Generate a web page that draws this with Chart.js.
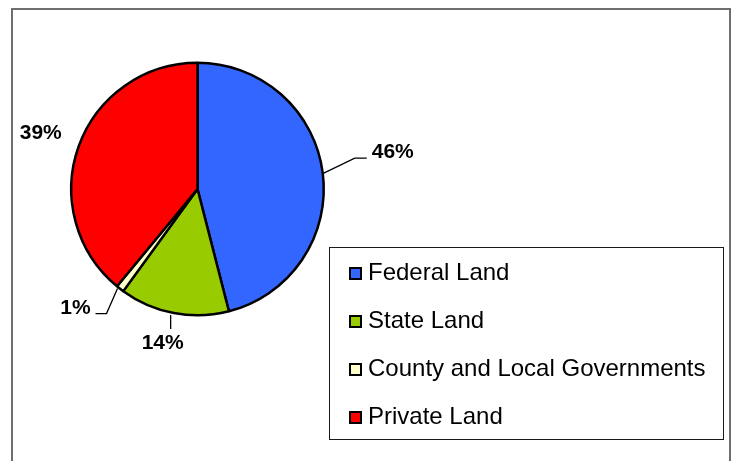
<!DOCTYPE html>
<html>
<head>
<meta charset="utf-8">
<title>Land Ownership</title>
<script src="https://cdn.jsdelivr.net/npm/chart.js@4"></script>
<style>
  html, body { margin: 0; padding: 0; background: #fff; }
  #wrap { width: 737px; height: 461px; position: relative; }
</style>
</head>
<body>
<div id="wrap"><canvas id="landChart" width="737" height="461"></canvas></div>
<script>
// land ownership shares (percent)
const landLabels = ['Federal Land', 'State Land', 'County and Local Governments', 'Private Land'];
const landShares = [46, 14, 1, 39];
const sliceColors = ['#3366FF', '#99CC00', '#FFFFCC', '#FF0000'];

const FONT = '"Liberation Sans", Arial, sans-serif';

// where each percent label sits, relative to the point on the rim at the slice's middle angle
// leader = optional polyline (also relative to that rim point)
const labelPlacement = [
  { dx: 69, dy: -22, leader: [[0, 0], [31, -15], [43, -15]] },
  { dx: -11, dy: 28, leader: [[-3, 1], [-3, 15]] },
  { dx: -44, dy: 18, leader: [[-2, -1], [-13, 24], [-24, 24]] },
  { dx: -37, dy: -14, leader: null }
];

// grey outer frame of the chart object
const framePlugin = {
  id: 'frame',
  beforeDraw(chart) {
    const ctx = chart.ctx;
    ctx.save();
    ctx.strokeStyle = '#6e6e6e';
    ctx.lineWidth = 2;
    ctx.strokeRect(12, 9, 718, 470);
    ctx.restore();
  }
};

// percent labels with leader lines
const pctLabelPlugin = {
  id: 'pctLabels',
  afterDatasetsDraw(chart) {
    const ctx = chart.ctx;
    const meta = chart.getDatasetMeta(0);
    const values = chart.data.datasets[0].data;
    const total = values.reduce((a, b) => a + b, 0);
    ctx.save();
    meta.data.forEach((arc, i) => {
      const p = arc.getProps(['x', 'y', 'startAngle', 'endAngle', 'outerRadius'], true);
      const mid = (p.startAngle + p.endAngle) / 2;
      const r = p.outerRadius + 1;
      const ex = p.x + Math.cos(mid) * r;
      const ey = p.y + Math.sin(mid) * r;
      const place = labelPlacement[i];
      if (place.leader) {
        ctx.beginPath();
        ctx.strokeStyle = '#000';
        ctx.lineWidth = 1.3;
        place.leader.forEach((pt, k) => {
          const lx = ex + pt[0], ly = ey + pt[1];
          if (k === 0) ctx.moveTo(lx, ly); else ctx.lineTo(lx, ly);
        });
        ctx.stroke();
      }
      ctx.fillStyle = '#000';
      ctx.font = 'bold 21px ' + FONT;
      ctx.textAlign = 'center';
      ctx.textBaseline = 'middle';
      const pct = Math.round(values[i] / total * 100) + '%';
      ctx.fillText(pct, ex + place.dx, ey + place.dy + 1);
    });
    ctx.restore();
  }
};

// boxed legend on the lower right
const boxLegendPlugin = {
  id: 'boxLegend',
  afterDraw(chart) {
    const ctx = chart.ctx;
    const ds = chart.data.datasets[0];
    ctx.save();
    ctx.strokeStyle = '#1a1a1a';
    ctx.lineWidth = 1;
    ctx.strokeRect(329.5, 247.5, 394, 192);
    ctx.font = '24px ' + FONT;
    ctx.textAlign = 'left';
    ctx.textBaseline = 'alphabetic';
    chart.data.labels.forEach((lbl, i) => {
      const base = 280 + i * 48;
      ctx.fillStyle = ds.backgroundColor[i];
      ctx.fillRect(350, base - 12, 11, 11);
      ctx.strokeStyle = '#000';
      ctx.lineWidth = 2;
      ctx.strokeRect(350, base - 12, 11, 11);
      ctx.fillStyle = '#000';
      ctx.fillText(lbl, 368, base);
    });
    ctx.restore();
  }
};

const config = {
  type: 'pie',
  data: {
    labels: landLabels,
    datasets: [{
      data: landShares,
      backgroundColor: sliceColors,
      borderColor: '#000',
      borderWidth: 2.5
    }]
  },
  options: {
    responsive: false,
    animation: false,
    layout: { padding: { left: 70, top: 61.5, right: 412, bottom: 144.5 } },
    plugins: {
      legend: { display: false },
      tooltip: { enabled: false }
    }
  },
  plugins: [framePlugin, pctLabelPlugin, boxLegendPlugin]
};

new Chart(document.getElementById('landChart'), config);
</script>
</body>
</html>
